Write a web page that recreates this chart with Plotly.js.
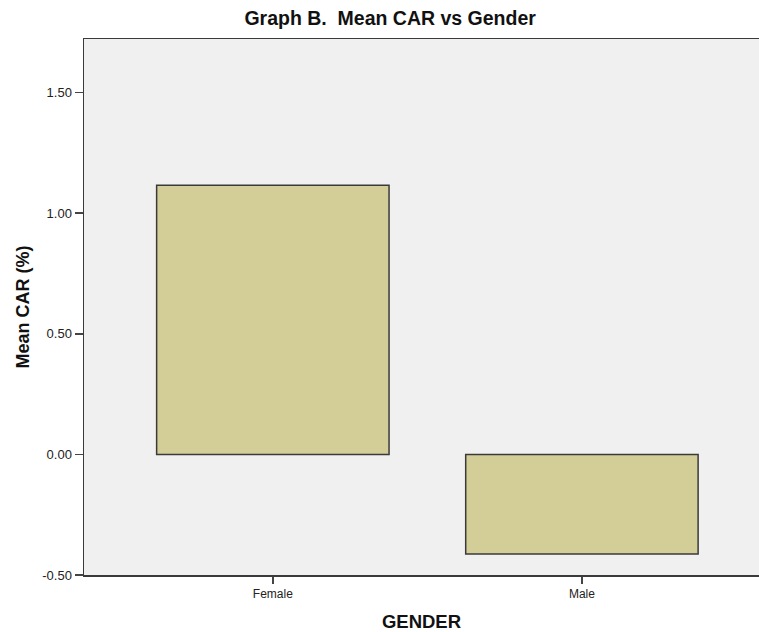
<!DOCTYPE html>
<html>
<head>
<meta charset="utf-8">
<script src="https://cdn.plot.ly/plotly-3.0.1.min.js"></script>
<style>html,body{margin:0;padding:0;background:#fff;}#chart{width:759px;height:632px;}</style>
</head>
<body>
<div id="chart"></div>
<script>
const categories = ["Female", "Male"];
const meanCAR = [1.116, -0.413];
const yTickVals = [-0.5, 0, 0.5, 1.0, 1.5];
const yTickText = ["-0.50", "0.00", "0.50", "1.00", "1.50"];

const trace = {
  type: "bar",
  x: [0, 1],
  y: meanCAR,
  width: 0.752,
  marker: { color: "#d3ce98", line: { color: "#3a3a3a", width: 1.5 } },
  hoverinfo: "skip"
};

const layout = {
  width: 759,
  height: 632,
  margin: { l: 84, r: 0, t: 39, b: 57 },
  paper_bgcolor: "#ffffff",
  plot_bgcolor: "#f0f0f0",
  showlegend: false,
  font: { family: "Liberation Sans, Arial, sans-serif", color: "#222" },
  title: {
    text: "Graph B.  Mean CAR vs Gender",
    font: { size: 19.5, color: "#111", weight: "bold" },
    x: 0.514, xanchor: "center", y: 0.971, yanchor: "middle"
  },
  xaxis: {
    range: [-0.611, 1.573],
    tickvals: [0, 1],
    ticktext: categories,
    ticks: "outside",
    ticklen: 7,
    tickwidth: 1.5,
    tickcolor: "#444",
    tickfont: { size: 12, color: "#222" },
    showline: true,
    linecolor: "#3a3a3a",
    linewidth: 1.5,
    mirror: true,
    showgrid: false,
    zeroline: false,
    fixedrange: true,
    title: { text: "GENDER", font: { size: 18.5, color: "#111", weight: "bold" }, standoff: 16 }
  },
  yaxis: {
    range: [-0.5, 1.722],
    tickvals: yTickVals,
    ticktext: yTickText,
    ticks: "outside",
    ticklen: 8,
    tickwidth: 1.5,
    tickcolor: "#444",
    tickfont: { size: 13, color: "#222" },
    showline: true,
    linecolor: "#3a3a3a",
    linewidth: 1.5,
    showgrid: false,
    zeroline: false,
    fixedrange: true,
    title: { text: "Mean CAR (%)", font: { size: 18, color: "#111", weight: "bold" }, standoff: 8 }
  }
};

Plotly.newPlot("chart", [trace], layout, { displayModeBar: false, staticPlot: true });
</script>
</body>
</html>
